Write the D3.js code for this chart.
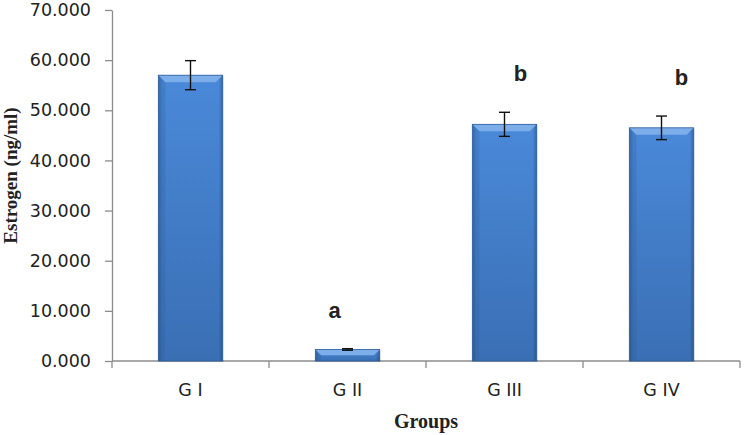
<!DOCTYPE html>
<html>
<head>
<meta charset="utf-8">
<script src="https://cdn.jsdelivr.net/npm/d3@7"></script>
<style>
  body { margin: 0; background: #fff; }
  svg text { fill: #222; }
</style>
</head>
<body>
<div id="chart"></div>
<script>
// values
const categories = ['G I', 'G II', 'G III', 'G IV'];
const means = [57.0, 2.3, 47.2, 46.5];
const errors = [2.9, 0.15, 2.4, 2.35];
const letters = ['', 'a', 'b', 'b'];
const yTicks = [0, 10, 20, 30, 40, 50, 60, 70];

const W = 744, H = 435,
    margin = { top: 10, right: 4, bottom: 74, left: 112 },
    innerW = W - margin.left - margin.right,
    innerH = H - margin.top - margin.bottom;

// hand placed letter nudges (px), as in the original
const letterShift = [0, -13, 16, 20];

const svg = d3.select('#chart').append('svg')
    .attr('width', W)
    .attr('height', H);

const defs = svg.append('defs');
const gBody = defs.append('linearGradient').attr('id', 'barBody')
    .attr('x1', 0).attr('y1', 0).attr('x2', 0).attr('y2', 1);
gBody.append('stop').attr('offset', '0%').attr('stop-color', '#4a89d9');
gBody.append('stop').attr('offset', '100%').attr('stop-color', '#3a6fb4');
const gSide = defs.append('linearGradient').attr('id', 'barSide')
    .attr('x1', 0).attr('y1', 0).attr('x2', 1).attr('y2', 0);
gSide.append('stop').attr('offset', '0%').attr('stop-color', '#000').attr('stop-opacity', 0.22);
gSide.append('stop').attr('offset', '6%').attr('stop-color', '#000').attr('stop-opacity', 0);
gSide.append('stop').attr('offset', '94%').attr('stop-color', '#000').attr('stop-opacity', 0);
gSide.append('stop').attr('offset', '100%').attr('stop-color', '#000').attr('stop-opacity', 0.25);

const g = svg.append('g')
    .attr('transform', `translate(${margin.left},${margin.top})`);

const x = d3.scaleBand()
    .domain(categories)
    .range([0, innerW])
    .paddingInner(0.59)
    .paddingOuter(0.295);

const y = d3.scaleLinear()
    .domain([0, 70])
    .range([innerH, 0]);

// y axis
const yAxis = g.append('g')
    .call(d3.axisLeft(y).tickValues(yTicks).tickFormat(d3.format('.3f')).tickSize(7).tickSizeOuter(0));
yAxis.select('.domain').attr('stroke', '#8c8c8c').attr('stroke-width', 1.3);
yAxis.selectAll('.tick line').attr('stroke', '#8c8c8c').attr('stroke-width', 1.3);
yAxis.selectAll('.tick text')
    .attr('x', -21)
    .style('font-family', '"DejaVu Sans", sans-serif')
    .style('font-size', '17.5px')
    .attr('fill', '#1e1e1e');

// x axis line + boundary ticks
const band = x.step();
g.append('line')
    .attr('x1', 0).attr('x2', innerW)
    .attr('y1', innerH).attr('y2', innerH)
    .attr('stroke', '#8c8c8c').attr('stroke-width', 1.3);
g.selectAll('.xtick')
    .data(d3.range(categories.length + 1))
    .join('line')
    .attr('class', 'xtick')
    .attr('x1', i => i * band).attr('x2', i => i * band)
    .attr('y1', innerH).attr('y2', innerH + 7)
    .attr('stroke', '#8c8c8c').attr('stroke-width', 1.3);
g.selectAll('.xlab')
    .data(categories)
    .join('text')
    .attr('class', 'xlab')
    .attr('x', d => x(d) + x.bandwidth() / 2)
    .attr('y', innerH + 35)
    .attr('text-anchor', 'middle')
    .style('font-family', '"DejaVu Sans", sans-serif')
    .style('font-size', '17.5px')
    .attr('fill', '#1e1e1e')
    .text(d => d);

// bars
const bars = g.selectAll('.bar')
    .data(categories.map((c, i) => ({ c, v: means[i], e: errors[i], l: letters[i], i })))
    .join('g')
    .attr('class', 'bar')
    .attr('transform', d => `translate(${x(d.c)},${y(d.v)})`);

const bw = x.bandwidth();
bars.append('rect')
    .attr('x', 1).attr('y', 1)
    .attr('width', bw).attr('height', d => innerH - y(d.v))
    .attr('fill', '#000').attr('opacity', 0.12);
bars.append('rect')
    .attr('width', bw).attr('height', d => innerH - y(d.v))
    .attr('fill', 'url(#barBody)');
bars.append('rect')
    .attr('width', bw).attr('height', d => innerH - y(d.v))
    .attr('fill', 'url(#barSide)');
// top bevel
bars.append('path')
    .attr('d', d => {
        const bev = Math.min(7, (innerH - y(d.v)) / 2);
        return `M0,0 L${bw},0 L${bw - bev},${bev} L${bev},${bev} Z`;
    })
    .attr('fill', '#7eaee9');
bars.append('path')
    .attr('d', d => {
        const bev = Math.min(7, (innerH - y(d.v)) / 2);
        return `M0,0 L${bev},${bev} L${bev},${innerH - y(d.v)} L0,${innerH - y(d.v)} Z`;
    })
    .attr('fill', '#2b5a98').attr('opacity', 0.25);
bars.append('rect')
    .attr('width', bw).attr('height', d => innerH - y(d.v))
    .attr('fill', 'none').attr('stroke', '#2f5f9e').attr('stroke-width', 0.8);

// error bars
const err = g.selectAll('.err')
    .data(categories.map((c, i) => ({ c, v: means[i], e: errors[i] })))
    .join('g')
    .attr('class', 'err')
    .attr('stroke', '#111').attr('stroke-width', 1.4);
err.append('line')
    .attr('x1', d => x(d.c) + bw / 2).attr('x2', d => x(d.c) + bw / 2)
    .attr('y1', d => y(d.v + d.e)).attr('y2', d => y(d.v - d.e));
err.append('line')
    .attr('x1', d => x(d.c) + bw / 2 - 5.5).attr('x2', d => x(d.c) + bw / 2 + 5.5)
    .attr('y1', d => y(d.v + d.e)).attr('y2', d => y(d.v + d.e));
err.append('line')
    .attr('x1', d => x(d.c) + bw / 2 - 5.5).attr('x2', d => x(d.c) + bw / 2 + 5.5)
    .attr('y1', d => y(d.v - d.e)).attr('y2', d => y(d.v - d.e));

// significance letters
g.selectAll('.sig')
    .data(categories.map((c, i) => ({ c, v: means[i], e: errors[i], l: letters[i], i })).filter(d => d.l))
    .join('text')
    .attr('class', 'sig')
    .attr('x', d => x(d.c) + bw / 2 + letterShift[d.i])
    .attr('y', d => y(d.v + d.e) - 31)
    .attr('text-anchor', 'middle')
    .style('font-family', '"Liberation Sans", Arial, sans-serif')
    .style('font-weight', 'bold')
    .style('font-size', '22px')
    .attr('fill', '#000')
    .text(d => d.l);

// axis titles
svg.append('text')
    .attr('transform', `translate(17,${margin.top + y(35) - 10}) rotate(-90)`)
    .attr('text-anchor', 'middle')
    .style('font-family', '"Liberation Serif", "Times New Roman", serif')
    .style('font-weight', 'bold')
    .style('font-size', '19px')
    .attr('fill', '#111')
    .text('Estrogen (ng/ml)');

svg.append('text')
    .attr('x', 426)
    .attr('y', 428)
    .attr('text-anchor', 'middle')
    .style('font-family', '"Liberation Serif", "Times New Roman", serif')
    .style('font-weight', 'bold')
    .style('font-size', '20px')
    .attr('fill', '#111')
    .text('Groups');
</script>
</body>
</html>
